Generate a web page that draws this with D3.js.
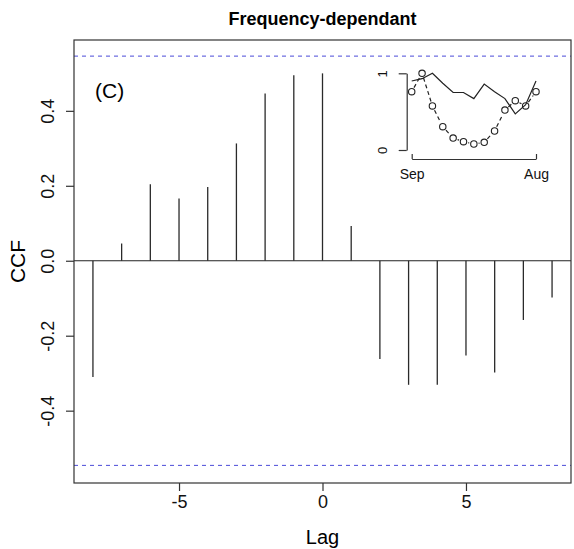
<!DOCTYPE html>
<html>
<head>
<meta charset="utf-8">
<script src="https://cdn.jsdelivr.net/npm/d3@7/dist/d3.min.js"></script>
<style>
  body { margin: 0; background: #fff; }
  svg { display: block; font-family: "Liberation Sans", Arial, sans-serif; }
</style>
</head>
<body>
<svg id="chart" width="574" height="549"></svg>
<script>
const lags = [-8, -7, -6, -5, -4, -3, -2, -1, 0, 1, 2, 3, 4, 5, 6, 7, 8]
const ccfValues = [-0.310, 0.046, 0.204, 0.166, 0.197, 0.313, 0.446, 0.495, 0.500,
                   0.093, -0.262, -0.331, -0.331, -0.253, -0.298, -0.158, -0.098]
const ciLevel = 0.546
const xTicks = [-5, 0, 5]
const yTicks = [-0.4, -0.2, 0.0, 0.2, 0.4]

// inset: monthly profiles, Sep .. Aug
const insetMonths = [0, 1, 2, 3, 4, 5, 6, 7, 8, 9, 10, 11, 12]
const insetCircles = [0.76, 1.0, 0.574, 0.304, 0.156, 0.108, 0.078, 0.10, 0.248, 0.52, 0.643, 0.574, 0.76]
const insetLine = [0.90, 0.93, 1.0, 0.87, 0.75, 0.75, 0.67, 0.86, 0.76, 0.67, 0.47, 0.59, 0.90]
const insetXLabels = ['Sep', 'Aug']
const insetYTicks = [0, 1]

const svg = d3.select('#chart')

const plotLeft = 74, plotRight = 571, plotTop = 40, plotBottom = 483

const x = d3.scaleLinear().domain([-8.66, 8.66]).range([plotLeft, plotRight])
const y = d3.scaleLinear().domain([-0.593, 0.589]).range([plotBottom, plotTop])

// significance bounds
svg.selectAll('.ci')
  .data([ciLevel, -ciLevel])
  .enter().append('line')
  .attr('class', 'ci')
  .attr('x1', plotLeft).attr('x2', plotRight)
  .attr('y1', d => y(d)).attr('y2', d => y(d))
  .attr('stroke', '#4a4ad8')
  .attr('stroke-width', 1)
  .attr('stroke-dasharray', '4,4')

// zero line
svg.append('line')
  .attr('x1', plotLeft).attr('x2', plotRight)
  .attr('y1', y(0)).attr('y2', y(0))
  .attr('stroke', '#222')
  .attr('stroke-width', 1)

// ccf spikes
svg.selectAll('.spike')
  .data(lags)
  .enter().append('line')
  .attr('class', 'spike')
  .attr('x1', d => x(d)).attr('x2', d => x(d))
  .attr('y1', y(0))
  .attr('y2', (d, i) => y(ccfValues[i]))
  .attr('stroke', '#2a2a2a')
  .attr('stroke-width', 1.3)

// frame
svg.append('rect')
  .attr('x', plotLeft).attr('y', plotTop)
  .attr('width', plotRight - plotLeft).attr('height', plotBottom - plotTop)
  .attr('fill', 'none')
  .attr('stroke', '#333')
  .attr('stroke-width', 1.2)

// axes
const xAxis = svg.append('g')
  .attr('transform', `translate(0,${plotBottom})`)
  .call(d3.axisBottom(x).tickValues(xTicks).tickSize(8).tickFormat(d3.format('d')))
xAxis.select('.domain').remove()
xAxis.selectAll('line').attr('stroke', '#333').attr('stroke-width', 1.2)
xAxis.selectAll('text')
  .attr('y', 12)
  .attr('fill', '#111')
  .style('font-size', '18px')
  .text(d => d < 0 ? '-' + Math.abs(d) : d)

const yAxis = svg.append('g')
  .attr('transform', `translate(${plotLeft},0)`)
  .call(d3.axisLeft(y).tickValues(yTicks).tickSize(8).tickFormat(d3.format('.1f')))
yAxis.select('.domain').remove()
yAxis.selectAll('line').attr('stroke', '#333').attr('stroke-width', 1.2)
yAxis.selectAll('text')
  .attr('transform', 'rotate(-90)')
  .attr('x', 0).attr('y', -20).attr('dy', 0)
  .attr('text-anchor', 'middle')
  .attr('fill', '#111')
  .style('font-size', '18px')
  .text(d => d3.format('.1f')(d).replace('−', '-'))

// labels
svg.append('text')
  .attr('x', (plotLeft + plotRight) / 2).attr('y', 25)
  .attr('text-anchor', 'middle')
  .style('font-weight', 'bold')
  .style('font-size', '18px')
  .text('Frequency-dependant')

svg.append('text')
  .attr('x', (plotLeft + plotRight) / 2).attr('y', 544)
  .attr('text-anchor', 'middle')
  .style('font-size', '20px')
  .text('Lag')

svg.append('text')
  .attr('transform', `translate(25,${(plotTop + plotBottom) / 2}) rotate(-90)`)
  .attr('text-anchor', 'middle')
  .style('font-size', '21px')
  .text('CCF')

svg.append('text')
  .attr('x', 95).attr('y', 98)
  .style('font-size', '21px')
  .text('(C)')

/* INSET */
const ix = d3.scaleLinear().domain([0, 12]).range([411.7, 536])
const iy = d3.scaleLinear().domain([0, 1]).range([150, 73.3])
const inset = svg.append('g').attr('class', 'inset')

const iyAxis = inset.append('g')
  .attr('transform', 'translate(406.7,0)')
  .call(d3.axisLeft(iy).tickValues(insetYTicks).tickSize(8).tickSizeOuter(0)
    .tickFormat(d3.format('d')))
iyAxis.selectAll('line, path').attr('stroke', '#333').attr('stroke-width', 1.2)
iyAxis.selectAll('text')
  .attr('transform', 'rotate(-90)')
  .attr('x', 0).attr('y', -20).attr('dy', 0)
  .attr('text-anchor', 'middle')
  .attr('fill', '#111')
  .style('font-size', '13px')

const ixAxis = inset.append('g')
  .attr('transform', 'translate(0,159)')
  .call(d3.axisBottom(ix).tickValues([0, 12]).tickSize(-5).tickSizeOuter(0)
    .tickFormat((d, i) => insetXLabels[i]))
ixAxis.selectAll('line, path').attr('stroke', '#333').attr('stroke-width', 1.2)
ixAxis.selectAll('text')
  .attr('y', 20).attr('dy', 0)
  .attr('fill', '#111')
  .style('font-size', '14px')

inset.append('path')
  .datum(insetMonths)
  .attr('d', d3.line().x(d => ix(d)).y((d, i) => iy(insetLine[i])))
  .attr('fill', 'none')
  .attr('stroke', '#222')
  .attr('stroke-width', 1.2)

// dashed segments with gaps round the points (type = "b")
const r = 3.2
const segs = insetMonths.slice(1).map((d, i) => {
  const x0 = ix(insetMonths[i]), y0 = iy(insetCircles[i]),
        x1 = ix(d), y1 = iy(insetCircles[i + 1]),
        len = Math.hypot(x1 - x0, y1 - y0),
        g = (r + 1.5) / len
  return {x0: x0 + (x1 - x0) * g, y0: y0 + (y1 - y0) * g,
          x1: x1 - (x1 - x0) * g, y1: y1 - (y1 - y0) * g}
})
inset.selectAll('.seg')
  .data(segs)
  .enter().append('line')
  .attr('class', 'seg')
  .attr('x1', d => d.x0).attr('y1', d => d.y0)
  .attr('x2', d => d.x1).attr('y2', d => d.y1)
  .attr('stroke', '#222')
  .attr('stroke-width', 1.2)
  .attr('stroke-dasharray', '4,3')

inset.selectAll('.pt')
  .data(insetMonths)
  .enter().append('circle')
  .attr('class', 'pt')
  .attr('cx', d => ix(d))
  .attr('cy', (d, i) => iy(insetCircles[i]))
  .attr('r', r)
  .attr('fill', 'none')
  .attr('stroke', '#222')
  .attr('stroke-width', 1.1)
</script>
</body>
</html>
